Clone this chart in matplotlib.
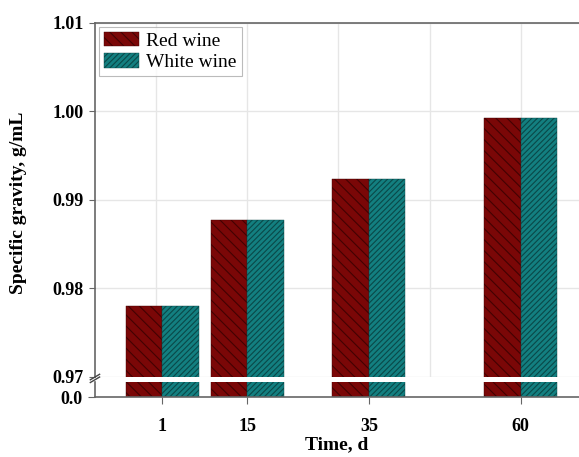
import matplotlib.pyplot as plt

plt.rcParams['font.family'] = ['Liberation Serif', 'DejaVu Serif']
plt.rcParams['hatch.linewidth'] = 0.8

days = [1, 15, 35, 60]
red_wine = [0.978, 0.9877, 0.9923, 0.9992]
white_wine = [0.978, 0.9877, 0.9923, 0.9992]
yticks_top = [0.97, 0.98, 0.99, 1.00, 1.01]

bar_w = 6
red_face, red_edge = '#7a0707', '#420202'
teal_face, teal_edge = '#137f80', '#0a4848'
spine_col = '#666666'

fig = plt.figure(figsize=(5.79, 4.57), dpi=100)
ax = fig.add_axes([0.164, 0.176, 0.836, 0.774])
ax2 = fig.add_axes([0.164, 0.131, 0.836, 0.033])

for a in (ax, ax2):
    a.bar([d - bar_w / 2 for d in days], red_wine, width=bar_w, color=red_face,
          edgecolor=red_edge, hatch='\\\\\\', linewidth=0.3, label='Red wine', zorder=2)
    a.bar([d + bar_w / 2 for d in days], white_wine, width=bar_w, color=teal_face,
          edgecolor=teal_edge, hatch='//////', linewidth=0.3, label='White wine', zorder=2)
    a.set_xlim(-10.1, 69.6)
    for s in a.spines.values():
        s.set_color(spine_col)
        s.set_linewidth(1.2)
    a.spines['right'].set_visible(False)

# upper part
ax.set_ylim(0.97, 1.01)
ax.set_yticks(yticks_top)
ax.set_yticklabels(['%.2f' % v for v in yticks_top], fontweight='bold', fontsize=13)
ax.set_xticks([0, 15, 30, 45, 60])
ax.tick_params(axis='x', length=0, labelbottom=False)
ax.tick_params(axis='y', direction='out', length=4, color=spine_col, pad=4)
ax.grid(True, color='#e6e6e6', linewidth=1, zorder=0)
ax.set_axisbelow(True)
ax.spines['bottom'].set_visible(False)
ax.set_ylabel('Specific gravity, g/mL', fontweight='bold', fontsize=14)
ax.yaxis.set_label_coords(-0.14, 0.49)

leg = ax.legend(loc='upper left', fontsize=14, frameon=True, fancybox=False,
                edgecolor='#aaaaaa', handlelength=1.8, handleheight=0.8,
                borderaxespad=0.2, handletextpad=0.4, labelspacing=0.15,
                borderpad=0.25)
leg.get_frame().set_linewidth(0.8)

# lower part
ax2.set_ylim(0, 0.5)
ax2.set_yticks([0])
ax2.set_yticklabels(['0.0'], fontweight='bold', fontsize=13)
ax2.set_xticks(days)
ax2.set_xticklabels([str(d) for d in days], fontweight='bold', fontsize=13)
ax2.tick_params(axis='both', direction='out', length=5, color=spine_col)
ax2.tick_params(axis='y', pad=4)
ax2.tick_params(axis='x', pad=10)
ax2.spines['top'].set_visible(False)
ax2.set_xlabel('Time, d', fontweight='bold', fontsize=14, labelpad=1)

# break marks on the left spine
for yy in (0.169, 0.175):
    fig.add_artist(plt.Line2D([0.156, 0.172], [yy - 0.006, yy + 0.006],
                              transform=fig.transFigure, color='#444444', linewidth=1))

fig.savefig('out.png', dpi=100)
